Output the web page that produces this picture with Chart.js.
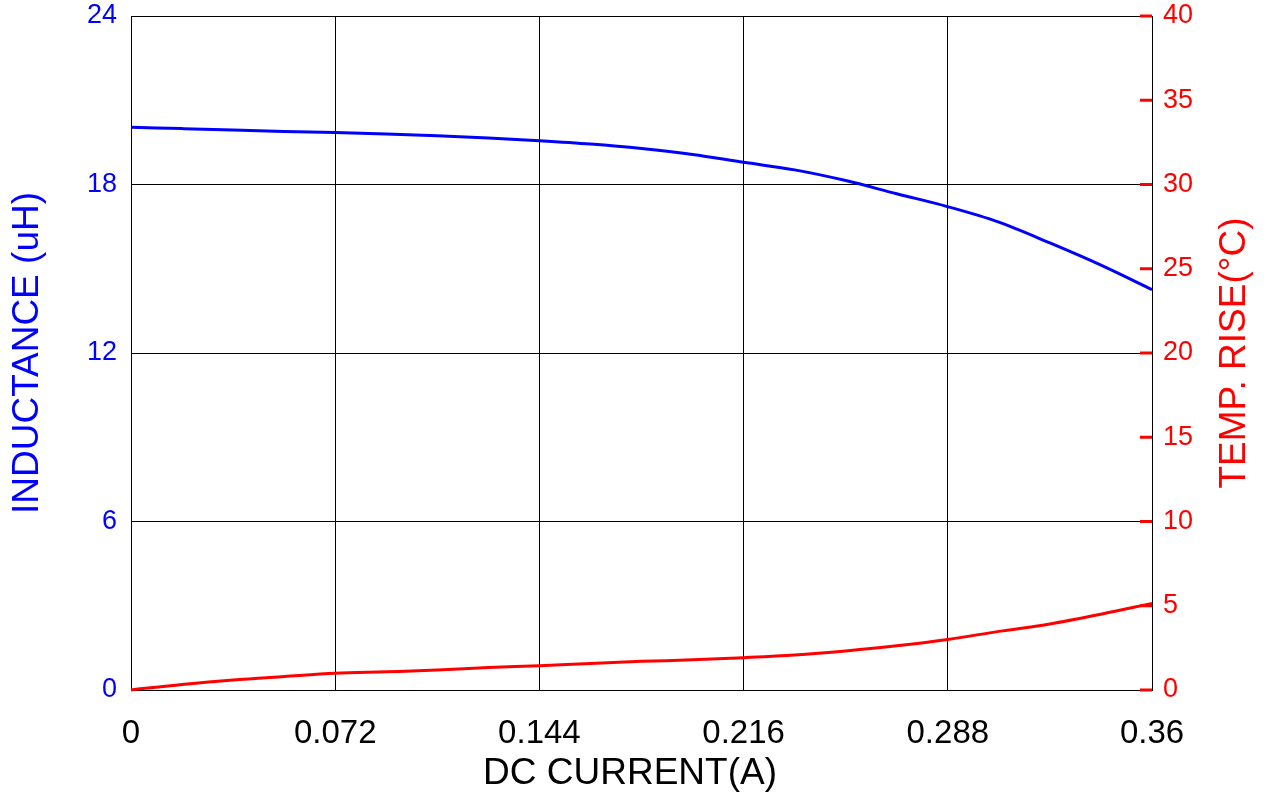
<!DOCTYPE html>
<html lang="en">
<head>
    <meta charset="UTF-8">
    <title>Inductance / Temp Rise vs DC Current</title>
    <script src="https://cdn.jsdelivr.net/npm/chart.js"></script>
    <style>
        html, body {
            margin: 0;
            padding: 0;
            background: #fff;
        }
        #wrap {
            width: 1267px;
            height: 805px;
        }
    </style>
</head>
<body>
    <div id="wrap"><canvas id="chart"></canvas></div>

    <script>
        // DC current (A)
        let currentA = [0, 0.018, 0.036, 0.054, 0.072, 0.09, 0.108, 0.126, 0.144, 0.162, 0.18,
                        0.198, 0.216, 0.234, 0.252, 0.27, 0.288, 0.306, 0.324, 0.342, 0.36];
        // inductance (uH), left axis
        let inductance = [20.04, 19.99, 19.94, 19.89, 19.85, 19.80, 19.74, 19.66, 19.56, 19.44, 19.28,
                          19.07, 18.79, 18.52, 18.14, 17.67, 17.21, 16.66, 15.92, 15.13, 14.26];
        // temperature rise (°C), right axis
        let tempRise = [0, 0.33, 0.60, 0.80, 0.99, 1.08, 1.18, 1.33, 1.44, 1.58, 1.70,
                        1.79, 1.92, 2.08, 2.32, 2.62, 3.00, 3.48, 3.92, 4.50, 5.14];

        let xTicks = [0, 0.072, 0.144, 0.216, 0.288, 0.36];
        let xTickLabels = ['0', '0.072', '0.144', '0.216', '0.288', '0.36'];
        let yLeftTicks = [0, 6, 12, 18, 24];
        let yRightTicks = [0, 5, 10, 15, 20, 25, 30, 35, 40];

        let fontName = "'Liberation Sans', Arial, sans-serif";

        function fixTicks(values) {
            return function (scale) {
                scale.ticks = values.map(v => ({ value: v }));
            };
        }

        function fixWidth(w) {
            return function (scale) {
                scale.width = w;
                scale.paddingTop = 0;
                scale.paddingBottom = 0;
            };
        }

        // red tick marks inside the right border, and the two titles drawn by hand
        let axisExtras = {
            id: 'axisExtras',
            afterDraw(chart) {
                let ctx = chart.ctx;
                let y2 = chart.scales.y2;
                let area = chart.chartArea;
                ctx.save();
                ctx.strokeStyle = '#ff0000';
                ctx.lineWidth = 3;
                yRightTicks.forEach(v => {
                    let py = y2.getPixelForValue(v);
                    ctx.beginPath();
                    ctx.moveTo(area.right - 12, py);
                    ctx.lineTo(area.right, py);
                    ctx.stroke();
                });

                ctx.font = '37px ' + fontName;
                ctx.textAlign = 'center';
                ctx.textBaseline = 'middle';

                ctx.fillStyle = '#000';
                ctx.fillText('DC CURRENT(A)', 630, 774);

                ctx.translate(1235, (area.top + area.bottom) / 2);
                ctx.rotate(-Math.PI / 2);
                ctx.fillStyle = '#ff0000';
                ctx.fillText('TEMP. RISE(°C)', 0, 0);
                ctx.restore();
            }
        };

        let ctx = document.getElementById('chart').getContext('2d');
        new Chart(ctx, {
            type: 'line',
            data: {
                datasets: [
                    {
                        label: 'Inductance',
                        data: currentA.map((x, i) => ({ x: x, y: inductance[i] })),
                        borderColor: '#0000ff',
                        borderWidth: 3,
                        pointRadius: 0,
                        cubicInterpolationMode: 'monotone',
                        yAxisID: 'y',
                        clip: 4
                    },
                    {
                        label: 'Temp. rise',
                        data: currentA.map((x, i) => ({ x: x, y: tempRise[i] })),
                        borderColor: '#ff0000',
                        borderWidth: 3,
                        pointRadius: 0,
                        cubicInterpolationMode: 'monotone',
                        yAxisID: 'y2',
                        clip: 4
                    }
                ]
            },
            options: {
                responsive: true,
                maintainAspectRatio: false,
                animation: false,
                layout: { padding: { top: 16, left: 0, right: 0, bottom: 0 } },
                plugins: {
                    legend: { display: false },
                    tooltip: { enabled: false }
                },
                scales: {
                    x: {
                        type: 'linear',
                        min: 0,
                        max: 0.36,
                        afterBuildTicks: fixTicks(xTicks),
                        afterFit(scale) { scale.height = 115; },
                        grid: { color: '#000', lineWidth: 1, drawTicks: false },
                        border: { color: '#000', width: 1 },
                        ticks: {
                            color: '#000',
                            padding: 24,
                            maxRotation: 0,
                            font: { family: fontName, size: 33 },
                            callback: (v, i) => xTickLabels[i]
                        }
                    },
                    y: {
                        position: 'left',
                        min: 0,
                        max: 24,
                        afterBuildTicks: fixTicks(yLeftTicks),
                        afterFit: fixWidth(131),
                        grid: { color: '#000', lineWidth: 1, drawTicks: false },
                        border: { color: '#000', width: 1 },
                        ticks: {
                            color: '#0000ff',
                            padding: 14,
                            font: { family: fontName, size: 27 }
                        },
                        title: {
                            display: true,
                            text: 'INDUCTANCE (uH)',
                            color: '#0000ff',
                            font: { family: fontName, size: 37 },
                            padding: { top: 6, bottom: 0 }
                        }
                    },
                    y2: {
                        position: 'right',
                        min: 0,
                        max: 40,
                        afterBuildTicks: fixTicks(yRightTicks),
                        afterFit: fixWidth(115),
                        grid: { drawOnChartArea: false, drawTicks: false },
                        border: { color: '#000', width: 1 },
                        ticks: {
                            color: '#ff0000',
                            padding: 11,
                            font: { family: fontName, size: 27 }
                        }
                    }
                }
            },
            plugins: [axisExtras]
        });
    </script>
</body>
</html>
